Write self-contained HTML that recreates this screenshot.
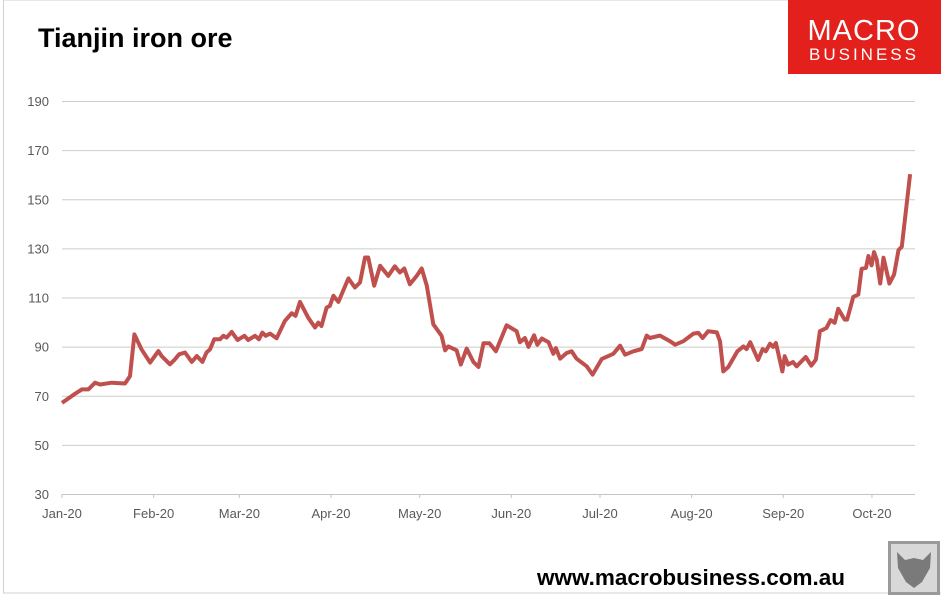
<!DOCTYPE html>
<html><head><meta charset="utf-8"><style>
body{margin:0;background:#fff;}
svg{display:block;font-family:"Liberation Sans",sans-serif;}
</style></head><body>
<svg width="941" height="595" viewBox="0 0 941 595">
<rect x="3.5" y="0" width="940" height="593" fill="#fff" stroke="#d0d0d0"/>
<text x="38" y="47" font-size="27" font-weight="bold" fill="#000">Tianjin iron ore</text>
<g>
<rect x="788" y="0" width="153" height="74" fill="#e3201b"/>
<text x="864" y="40" font-size="29" fill="#fff" text-anchor="middle" letter-spacing="1">MACRO</text>
<text x="864" y="60" font-size="17" fill="#fff" text-anchor="middle" letter-spacing="3">BUSINESS</text>
</g>
<g id="grid"></g>
<g id="yl"></g>
<g id="xl"></g>
<path id="line" fill="none" stroke="#c0504d" stroke-width="4" stroke-linejoin="round"/>
<text x="845" y="585" font-size="22.5" font-weight="bold" text-anchor="end" fill="#000">www.macrobusiness.com.au</text>
<g>
<rect x="888" y="541" width="52" height="54" fill="#9a9a9a"/>
<rect x="891" y="544" width="46" height="48" fill="#d8d8d8"/>
<path d="M897 552 L905 560 L914 558 L923 560 L931 552 L930 568 L922 582 L914 588 L906 582 L898 568 Z" fill="#7a7a7a"/>
</g>
</svg>
<script>
const yTicks=[30,50,70,90,110,130,150,170,190];
const xLabels=["Jan-20","Feb-20","Mar-20","Apr-20","May-20","Jun-20","Jul-20","Aug-20","Sep-20","Oct-20"];
const xLabelDays=[0,31,60,91,121,152,182,213,244,274];
const days=[0,4.4,6.7,8.9,11.2,12.9,16.8,21.3,23,24.5,26.9,29.8,32.6,33.7,36.5,38.2,39.6,41.6,43.9,45.6,47.5,48.9,50.1,51.5,53.4,54.6,55.7,57.4,59.4,61.7,63,65.3,66.6,67.8,68.9,70.4,72.6,75.4,77.7,79,80.5,83.3,85.6,86.7,87.8,89.5,90.6,91.8,93.5,96.9,99.1,100.8,102.5,103.6,105.6,107.6,110.4,112.6,114.3,115.8,117.7,120,121.7,123.4,125.6,126.7,128.4,129.6,130.7,133.5,134.9,136.9,139.2,140.9,142.6,144.6,146.8,150.4,153.8,154.9,156.6,157.8,159.7,160.8,162.3,164.6,166.2,167.1,168.5,170.7,172.4,174.1,177.5,179.5,182.6,186.5,188.8,190.5,193.3,196.1,197.8,198.9,202.3,205.7,207.4,210.2,213.6,215.3,216.7,218.6,221.5,222.6,223.7,225.4,228.5,230.5,231.6,232.8,235.5,237,238.1,239.5,240.6,241.5,242.3,243.7,244.5,245.6,247.3,248.5,251.6,253.5,255,256.4,258.6,260,261.4,262.6,264.8,265.6,267.7,269.4,270.5,272,272.8,273.9,274.7,275.6,276.8,277.9,279.9,281.5,283,284.1,286.9];
const prices=[67.1,70.8,72.6,72.6,75.3,74.6,75.3,75,78,95,88.9,83.5,88.2,86.2,82.8,84.8,86.9,87.6,83.8,86.2,83.8,87.6,88.9,93,93,94.4,93.7,96,92.7,94.4,92.7,94.4,93,95.7,94.4,95.3,93.4,100.5,103.6,102.5,108.2,101.8,97.8,99.8,98.4,105.9,106.6,110.7,108.2,117.8,114.1,116.1,126.3,126.3,114.8,122.9,118.8,122.7,120.2,121.8,115.4,118.8,121.8,114.8,99.1,97.3,94.4,88.5,90.1,88.5,82.7,89.2,83.7,81.7,91.4,91.4,88.1,98.7,96.3,91.8,93.5,89.9,94.6,90.8,93.3,91.8,87.1,89.4,85.1,87.4,88.1,85.1,82,78.6,85,87.1,90.4,86.7,88.1,89,94.5,93.5,94.5,92.2,90.8,92.2,95.3,95.6,93.5,96.3,95.8,92.2,79.9,81.7,88.1,90.1,89,91.8,84.6,89,88.1,91.2,89.9,91.5,87.4,79.9,86.1,82.7,83.7,82,85.8,82.3,84.7,96.3,97.6,100.8,99.7,105.4,101,101,110.3,111.2,121.7,122.1,126.9,123.1,128.5,125.5,115.7,126.2,115.7,119.4,129.3,130.7,160.2];
const NS='http://www.w3.org/2000/svg';
const X0=62,X1=915,Y0=494;
function xs(d){return X0+d*2.956;}
function ys(v){return Y0-(v-30)*2.456;}
const grid=document.getElementById('grid'),yl=document.getElementById('yl'),xl=document.getElementById('xl');
yTicks.forEach(t=>{
  const l=document.createElementNS(NS,'line');
  l.setAttribute('x1',X0);l.setAttribute('x2',X1);l.setAttribute('y1',ys(t)+0.5);l.setAttribute('y2',ys(t)+0.5);
  l.setAttribute('stroke',t===30?'#bfc8c0':'#c8cfc9');l.setAttribute('stroke-width','1');
  
  
  grid.appendChild(l);
  const tx=document.createElementNS(NS,'text');
  tx.setAttribute('x',49);tx.setAttribute('y',ys(t)+5);tx.setAttribute('text-anchor','end');
  tx.setAttribute('font-size','13');tx.setAttribute('fill','#595959');tx.textContent=t;
  
  
  yl.appendChild(tx);
});
xLabels.forEach((s,i)=>{
  const x=xs(xLabelDays[i]);
  const tk=document.createElementNS(NS,'line');
  tk.setAttribute('x1',x);tk.setAttribute('x2',x);tk.setAttribute('y1',Y0);tk.setAttribute('y2',Y0+4);
  tk.setAttribute('stroke','#bfc8c0');
  
  
  xl.appendChild(tk);
  const tx=document.createElementNS(NS,'text');
  tx.setAttribute('x',x);tx.setAttribute('y',Y0+24);tx.setAttribute('text-anchor','middle');
  tx.setAttribute('font-size','13');tx.setAttribute('fill','#595959');tx.textContent=s;
  
  
  xl.appendChild(tx);
});
document.getElementById('line').setAttribute('d',days.map((d,i)=>(i?'L':'M')+xs(d).toFixed(1)+' '+ys(prices[i]).toFixed(1)).join(' '));
</script>
</body></html>
